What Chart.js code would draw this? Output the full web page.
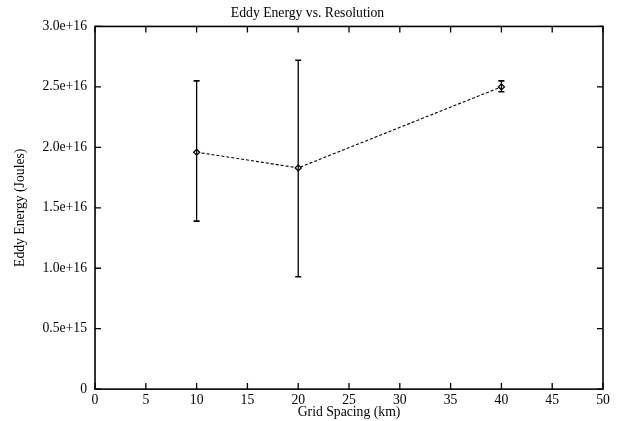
<!DOCTYPE html>
<html>
<head>
<meta charset="utf-8">
<script src="https://cdn.jsdelivr.net/npm/chart.js@4"></script>
<style>
  html, body { margin: 0; padding: 0; background: #fff; }
  #wrap { width: 620px; height: 421px; }
</style>
</head>
<body>
<div id="wrap"><canvas id="chart" width="620" height="421"></canvas></div>
<script>
// ─── DATA ──────────────────────────────────────────────────
const gridSpacing = [10, 20, 40];
const eddyEnergy  = [1.96e16, 1.83e16, 2.50e16];
const errLow      = [1.39e16, 0.93e16, 2.46e16];
const errHigh     = [2.55e16, 2.72e16, 2.55e16];
const xTickValues = [0, 5, 10, 15, 20, 25, 30, 35, 40, 45, 50];
const yTickLabels = ['0', '0.5e+15', '1.0e+16', '1.5e+16', '2.0e+16', '2.5e+16', '3.0e+16'];

const FONT = { family: '"Liberation Serif", "DejaVu Serif", serif', size: 13.7 };

// ─── DATASETS ──────────────────────────────────────────────
const errorBars = gridSpacing.map((x, i) => ({
  data: [{ x, y: errLow[i] }, { x, y: errHigh[i] }],
  showLine: true,
  borderColor: '#000',
  borderWidth: 1.3,
  pointStyle: 'line',
  pointRadius: 3,
  pointBorderWidth: 1.6,
  pointBorderColor: '#000',
}));

const mainLine = {
  data: gridSpacing.map((x, i) => ({ x, y: eddyEnergy[i] })),
  showLine: true,
  borderColor: '#000',
  borderWidth: 1.1,
  borderDash: [3, 2],
  pointStyle: 'rectRot',
  pointRadius: 3,
  pointBackgroundColor: '#fff',
  pointBorderColor: '#000',
  pointBorderWidth: 1.3,
};

// frame plus inward ticks on all four sides (gnuplot look)
const frameTicks = {
  id: 'frameTicks',
  afterDatasetsDraw(chart) {
    const { ctx, chartArea: a, scales: { x, y } } = chart;
    ctx.save();
    ctx.strokeStyle = '#000';
    ctx.lineWidth = 1.6;
    ctx.strokeRect(a.left, a.top, a.right - a.left, a.bottom - a.top);
    ctx.lineWidth = 1.3;
    ctx.beginPath();
    x.ticks.forEach(t => {
      const px = x.getPixelForValue(t.value);
      ctx.moveTo(px, a.bottom); ctx.lineTo(px, a.bottom - 6);
      ctx.moveTo(px, a.top);    ctx.lineTo(px, a.top + 6);
    });
    y.ticks.forEach(t => {
      const py = y.getPixelForValue(t.value);
      ctx.moveTo(a.left, py);  ctx.lineTo(a.left + 6, py);
      ctx.moveTo(a.right, py); ctx.lineTo(a.right - 6, py);
    });
    ctx.stroke();
    ctx.restore();
  },
};

new Chart(document.getElementById('chart'), {
  type: 'scatter',
  data: { datasets: [...errorBars, mainLine] },
  options: {
    responsive: false,
    animation: false,
    layout: { padding: { left: 12, right: 17, top: 3, bottom: 0 } },
    plugins: {
      legend: { display: false },
      tooltip: { enabled: false },
      title: {
        display: true,
        text: 'Eddy Energy vs. Resolution',
        color: '#000',
        font: { ...FONT, weight: 'normal' },
        padding: { top: 2, bottom: 5 },
      },
    },
    scales: {
      x: {
        type: 'linear',
        min: 0, max: 50,
        afterBuildTicks: s => { s.ticks = xTickValues.map(v => ({ value: v })); },
        grid: { display: false, drawTicks: false },
        border: { display: false },
        ticks: { color: '#000', font: FONT, padding: 3, maxRotation: 0 },
        title: { display: true, text: 'Grid Spacing (km)', color: '#000', font: FONT, padding: { top: -7, bottom: 0 } },
      },
      y: {
        type: 'linear',
        min: 0, max: 3e16,
        afterBuildTicks: s => { s.ticks = yTickLabels.map((_, i) => ({ value: i * 0.5e16 })); },
        grid: { display: false, drawTicks: false },
        border: { display: false },
        ticks: { color: '#000', font: FONT, padding: 8, callback: (v, i) => yTickLabels[i] },
        title: { display: true, text: 'Eddy Energy (Joules)', color: '#000', font: FONT, padding: { top: 0, bottom: 6 } },
      },
    },
  },
  plugins: [frameTicks],
});
</script>
</body>
</html>
